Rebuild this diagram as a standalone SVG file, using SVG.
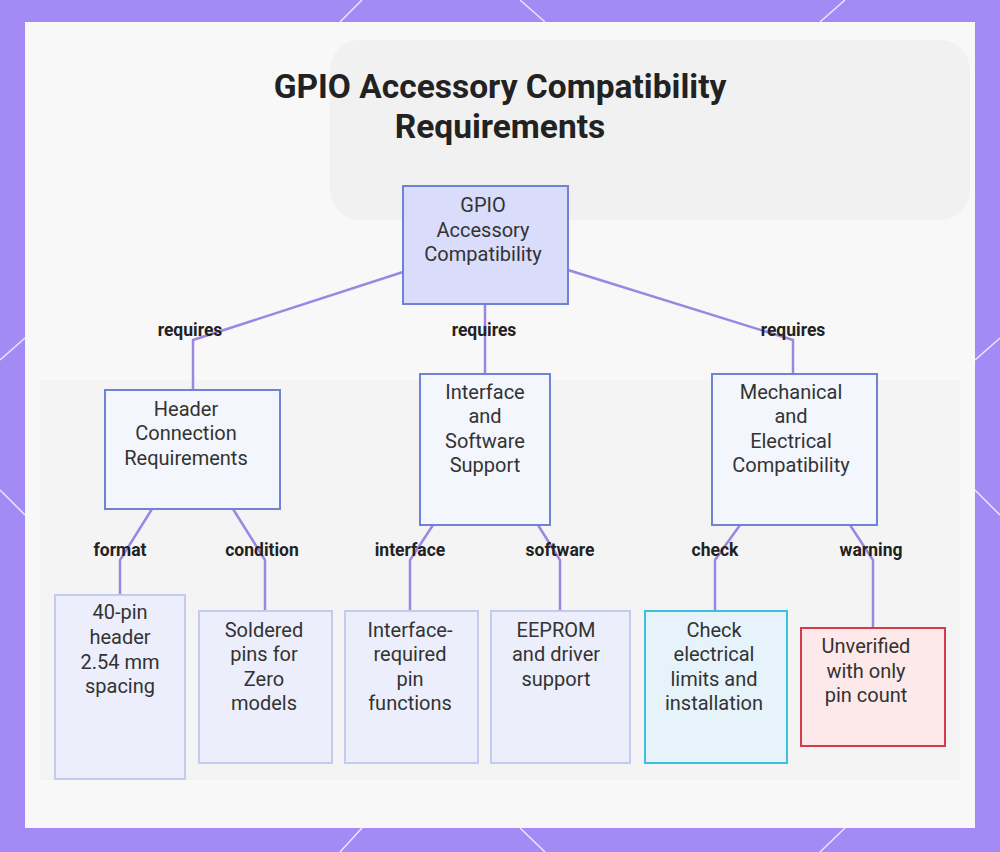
<svg xmlns="http://www.w3.org/2000/svg" width="1000" height="852" viewBox="0 0 1000 852">
<style>
.t{font-family:Roboto,"Liberation Sans",sans-serif;font-size:20px;fill:#333;text-anchor:middle}
.l{font-family:Roboto,"Liberation Sans",sans-serif;font-size:17.5px;font-weight:bold;fill:#222;text-anchor:middle}
.c{fill:none;stroke:#9c86e4;stroke-width:2.5}
.n{fill:#f4f6fd;stroke:#6f82d8;stroke-width:2}
.f{fill:#eceefb;stroke:#c5cbef;stroke-width:2}
</style>
<rect width="1000" height="852" fill="#a48af5"/>
<g stroke="#ffffff" stroke-width="1.5" opacity="0.8">
<line x1="340" y1="22" x2="362" y2="0"/><line x1="520" y1="0" x2="545" y2="22"/><line x1="820" y1="22" x2="845" y2="0"/>
<line x1="0" y1="360" x2="25" y2="338"/><line x1="0" y1="490" x2="25" y2="515"/><line x1="975" y1="360" x2="1000" y2="338"/><line x1="975" y1="490" x2="1000" y2="515"/>
<line x1="340" y1="852" x2="362" y2="828"/><line x1="520" y1="828" x2="545" y2="852"/><line x1="820" y1="852" x2="845" y2="828"/>
</g>
<rect x="25" y="22" width="950" height="806" fill="#f8f8f8"/>
<rect x="330" y="40" width="640" height="180" rx="30" fill="#f1f1f1"/>
<rect x="40" y="380" width="920" height="400" fill="#f4f4f4"/>
<text x="500" y="98" font-family="Roboto,'Liberation Sans',sans-serif" font-size="33.5" font-weight="bold" fill="#222" text-anchor="middle">GPIO Accessory Compatibility</text>
<text x="500" y="138" font-family="Roboto,'Liberation Sans',sans-serif" font-size="33.5" font-weight="bold" fill="#222" text-anchor="middle">Requirements</text>
<g id="connectors">
<polyline class="c" points="403,272 193,340 193,390"/>
<polyline class="c" points="485,304 485,374"/>
<polyline class="c" points="568,270 793,340 793,374"/>
<polyline class="c" points="152,509 120,560 120,595"/>
<polyline class="c" points="233,509 265,560 265,611"/>
<polyline class="c" points="433,525 410,560 410,611"/>
<polyline class="c" points="538,525 560,560 560,611"/>
<polyline class="c" points="740,525 715,560 715,611"/>
<polyline class="c" points="850,525 873,560 873,628"/>
<text class="l" x="190" y="336">requires</text><text class="l" x="484" y="336">requires</text><text class="l" x="793" y="336">requires</text>
<text class="l" x="120" y="556">format</text><text class="l" x="262" y="556">condition</text>
<text class="l" x="410" y="556">interface</text><text class="l" x="560" y="556">software</text>
<text class="l" x="715" y="556">check</text><text class="l" x="871" y="556">warning</text>
</g>
<g id="root"><rect x="403" y="186" width="165" height="118" fill="#d9dcfb" stroke="#6f82d8" stroke-width="2"/>
<text class="t" x="483" y="212">GPIO</text><text class="t" x="483" y="237">Accessory</text><text class="t" x="483" y="261">Compatibility</text></g>
<g id="header"><rect class="n" x="105" y="390" width="175" height="119"/>
<text class="t" x="186" y="416">Header</text><text class="t" x="186" y="440">Connection</text><text class="t" x="186" y="465">Requirements</text></g>
<g id="iface"><rect class="n" x="420" y="374" width="130" height="151"/>
<text class="t" x="485" y="399">Interface</text><text class="t" x="485" y="423">and</text><text class="t" x="485" y="448">Software</text><text class="t" x="485" y="472">Support</text></g>
<g id="mech"><rect class="n" x="712" y="374" width="165" height="151"/>
<text class="t" x="791" y="399">Mechanical</text><text class="t" x="791" y="423">and</text><text class="t" x="791" y="448">Electrical</text><text class="t" x="791" y="472">Compatibility</text></g>
<g id="pin40"><rect class="f" x="55" y="595" width="130" height="184"/>
<text class="t" x="120" y="619">40-pin</text><text class="t" x="120" y="644">header</text><text class="t" x="120" y="669">2.54 mm</text><text class="t" x="120" y="693">spacing</text></g>
<g id="soldered"><rect class="f" x="199" y="611" width="133" height="152"/>
<text class="t" x="264" y="637">Soldered</text><text class="t" x="264" y="661">pins for</text><text class="t" x="264" y="686">Zero</text><text class="t" x="264" y="710">models</text></g>
<g id="ifreq"><rect class="f" x="345" y="611" width="133" height="152"/>
<text class="t" x="410" y="637">Interface-</text><text class="t" x="410" y="661">required</text><text class="t" x="410" y="686">pin</text><text class="t" x="410" y="710">functions</text></g>
<g id="eeprom"><rect class="f" x="491" y="611" width="139" height="152"/>
<text class="t" x="556" y="637">EEPROM</text><text class="t" x="556" y="661">and driver</text><text class="t" x="556" y="686">support</text></g>
<g id="check"><rect x="645" y="611" width="142" height="152" fill="#e6f3fb" stroke="#3dbde0" stroke-width="2"/>
<text class="t" x="714" y="637">Check</text><text class="t" x="714" y="661">electrical</text><text class="t" x="714" y="686">limits and</text><text class="t" x="714" y="710">installation</text></g>
<g id="unverified"><rect x="801" y="628" width="144" height="118" fill="#fde8ea" stroke="#d43c4c" stroke-width="2"/>
<text class="t" x="866" y="653">Unverified</text><text class="t" x="866" y="678">with only</text><text class="t" x="866" y="702">pin count</text></g>
</svg>
